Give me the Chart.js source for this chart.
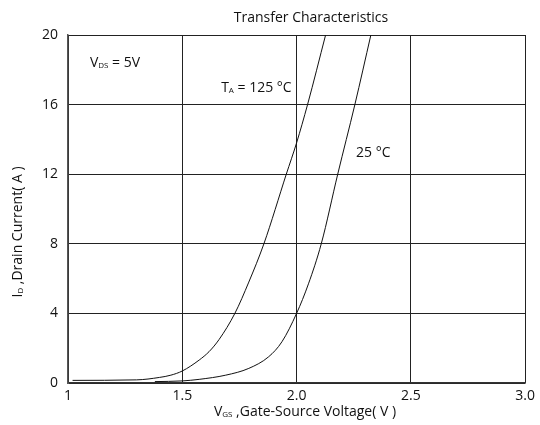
<!DOCTYPE html>
<html>
<head>
<meta charset="utf-8">
<script src="https://cdn.jsdelivr.net/npm/chart.js@4.4.1/dist/chart.umd.min.js"></script>
<style>
  html, body { margin: 0; padding: 0; background: #fff; }
  #wrap { width: 540px; height: 425px; position: relative; }
</style>
</head>
<body>
<div id="wrap"><canvas id="chart"></canvas></div>
<script>
// values
const vgs125 = [1.02, 1.3, 1.4, 1.45, 1.5, 1.574, 1.617, 1.661, 1.73, 1.791, 1.857, 1.955, 2.0, 2.048, 2.127];
const id125  = [0.15, 0.18, 0.32, 0.45, 0.69, 1.32, 1.8, 2.5, 4.0, 5.8, 8.0, 12.0, 13.8, 16.0, 20.0];
const vgs25 = [1.38, 1.5, 1.574, 1.69, 1.791, 1.878, 1.936, 2.0, 2.052, 2.108, 2.18, 2.255, 2.325];
const id25  = [0.08, 0.12, 0.21, 0.45, 0.84, 1.51, 2.37, 4.0, 5.7, 8.0, 12.0, 16.0, 20.0];
const xTicks = [1, 1.5, 2.0, 2.5, 3.0];
const yTicks = [0, 4, 8, 12, 16, 20];

const FONT = '"Open Sans", "Noto Sans", sans-serif';
const toXY = (xs, ys) => xs.map((x, i) => ({ x: x, y: ys[i] }));

// text with subscripts: parts = [[text, isSub], ...]
function drawParts(ctx, parts, x, y, size, align) {
  const big = size + 'px ' + FONT, small = Math.round(size * 0.55) + 'px ' + FONT;
  let w = 0;
  parts.forEach(p => { ctx.font = p[1] ? small : big; w += ctx.measureText(p[0]).width; });
  let cx = align === 'center' ? x - w / 2 : x;
  ctx.textAlign = 'left';
  ctx.textBaseline = 'middle';
  parts.forEach(p => {
    ctx.font = p[1] ? small : big;
    ctx.fillText(p[0], cx, p[1] ? y + 3 : y);
    cx += ctx.measureText(p[0]).width;
  });
}

const textPlugin = {
  id: 'texts',
  afterDraw(chart) {
    const ctx = chart.ctx, sx = chart.scales.x, sy = chart.scales.y;
    ctx.save();
    ctx.fillStyle = '#111';
    ctx.font = '14px ' + FONT;
    ctx.textAlign = 'center';
    ctx.textBaseline = 'middle';
    ctx.fillText('Transfer Characteristics', 311, 18);

    drawParts(ctx, [['V', false], ['GS', true], [' ,Gate-Source Voltage( V )', false]], 305, 412, 14, 'center');

    ctx.save();
    ctx.translate(18, 232);
    ctx.rotate(-Math.PI / 2);
    drawParts(ctx, [['I', false], ['D', true], [' ,Drain Current( A )', false]], 0, 0, 14, 'center');
    ctx.restore();

    drawParts(ctx, [['V', false], ['DS', true], [' = 5V', false]], sx.getPixelForValue(1.096), sy.getPixelForValue(18.4), 14, 'left');
    drawParts(ctx, [['T', false], ['A', true], [' = 125 °C', false]], sx.getPixelForValue(1.67), sy.getPixelForValue(16.95), 14, 'left');
    drawParts(ctx, [['25 °C', false]], sx.getPixelForValue(2.26), sy.getPixelForValue(13.2), 14, 'left');
    ctx.restore();
  }
};

const lineStyle = {
  showLine: true,
  borderColor: '#111',
  backgroundColor: '#111',
  borderWidth: 1,
  pointRadius: 0,
  cubicInterpolationMode: 'monotone',
  clip: 0
};

new Chart(document.getElementById('chart'), {
  type: 'scatter',
  data: {
    datasets: [
      Object.assign({ label: 'TA = 125 °C', data: toXY(vgs125, id125) }, lineStyle),
      Object.assign({ label: '25 °C', data: toXY(vgs25, id25) }, lineStyle)
    ]
  },
  options: {
    responsive: true,
    maintainAspectRatio: false,
    animation: false,
    layout: { padding: { top: 35, right: 12, left: 0, bottom: 0 } },
    plugins: {
      legend: { display: false },
      tooltip: { enabled: false }
    },
    scales: {
      x: {
        type: 'linear',
        min: 1, max: 3,
        afterFit(scale) { scale.height = 42; },
        afterBuildTicks(scale) { scale.ticks = xTicks.map(v => ({ value: v })); },
        ticks: {
          padding: 5,
          color: '#111',
          font: { family: FONT, size: 14 },
          callback: v => v === 1 ? '1' : v.toFixed(1)
        },
        grid: { color: '#222', lineWidth: 1, drawTicks: false },
        border: { color: '#333', width: 1.5 }
      },
      y: {
        min: 0, max: 20,
        afterFit(scale) { scale.width = 68; },
        afterBuildTicks(scale) { scale.ticks = yTicks.map(v => ({ value: v })); },
        ticks: {
          padding: 10,
          color: '#111',
          font: { family: FONT, size: 14 }
        },
        grid: { color: '#222', lineWidth: 1, drawTicks: false },
        border: { color: '#555', width: 1.5 }
      }
    }
  },
  plugins: [textPlugin]
});
</script>
</body>
</html>
